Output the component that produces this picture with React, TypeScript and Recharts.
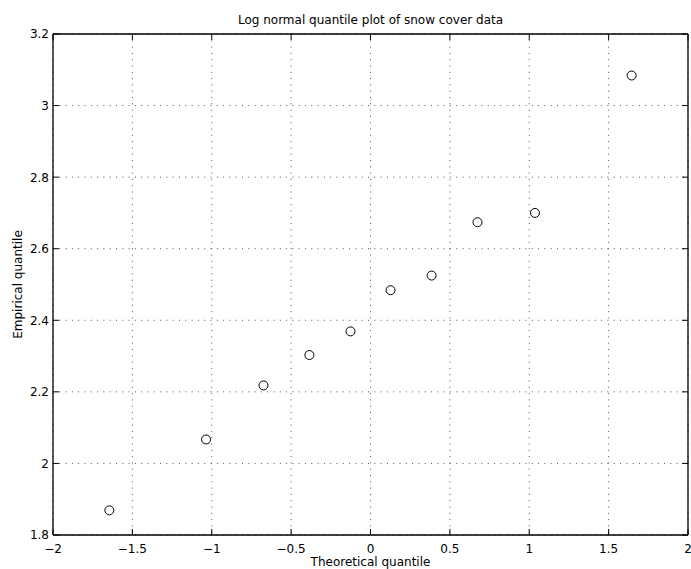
import React from 'react';
import { ScatterChart, Scatter, XAxis, YAxis, CartesianGrid, Label } from 'recharts';

const theoreticalQuantiles = [-1.645, -1.036, -0.674, -0.385, -0.126, 0.126, 0.385, 0.674, 1.036, 1.645];
const empiricalQuantiles = [1.869, 2.067, 2.218, 2.303, 2.369, 2.484, 2.525, 2.674, 2.7, 3.084];
const xTicks = [-2, -1.5, -1, -0.5, 0, 0.5, 1, 1.5, 2];
const yTicks = [1.8, 2, 2.2, 2.4, 2.6, 2.8, 3, 3.2];

const title = 'Log normal quantile plot of snow cover data';
const xLabel = 'Theoretical quantile';
const yLabel = 'Empirical quantile';

const data = theoreticalQuantiles.map((x, i) => ({ x, y: empiricalQuantiles[i] }));

const FONT = '"DejaVu Sans", sans-serif';
const fmt = (v: number) => {
  const s = String(v);
  return s.startsWith('-') ? '\u2212' + s.slice(1) : s;
};

const BottomTick = (props: any) => {
  const { x, y, payload } = props;
  return (
    <g>
      <line x1={x} y1={y} x2={x} y2={y - 6} stroke="#000" strokeWidth={1} />
      <text x={x} y={y + 18} textAnchor="middle" fontFamily={FONT} fontSize={12} fill="#000">
        {fmt(payload.value)}
      </text>
    </g>
  );
};

const LeftTick = (props: any) => {
  const { x, y, payload } = props;
  return (
    <g>
      <line x1={x} y1={y} x2={x + 6} y2={y} stroke="#000" strokeWidth={1} />
      <text x={x - 4} y={y + 4.4} textAnchor="end" fontFamily={FONT} fontSize={12} fill="#000">
        {fmt(payload.value)}
      </text>
    </g>
  );
};

const TopTick = (props: any) => {
  const { x, y } = props;
  return <line x1={x} y1={y} x2={x} y2={y + 6} stroke="#000" strokeWidth={1} />;
};

const RightTick = (props: any) => {
  const { x, y } = props;
  return <line x1={x} y1={y} x2={x - 6} y2={y} stroke="#000" strokeWidth={1} />;
};

const Ring = (props: any) => {
  const { cx, cy } = props;
  return <circle cx={cx} cy={cy} r={4.5} fill="none" stroke="#000" strokeWidth={1} />;
};

const YLabelContent = (props: any) => {
  const vb = props.viewBox || {};
  const cy = (vb.y ?? 34) + (vb.height ?? 501) / 2;
  const cx = 21.5;
  return (
    <text
      x={cx}
      y={cy}
      transform={`rotate(-90, ${cx}, ${cy})`}
      textAnchor="middle"
      fontFamily={FONT}
      fontSize={12}
      fill="#000"
    >
      {yLabel}
    </text>
  );
};

export default function App() {
  return (
    <div style={{ position: 'absolute', left: 0, top: 0, width: 691, height: 569, background: '#fff' }}>
      <ScatterChart width={691} height={569} margin={{ top: 33, right: 2, bottom: 0, left: 0 }}>
        <CartesianGrid stroke="#555" strokeDasharray="1 5.3" />
        <XAxis
          type="number"
          dataKey="x"
          domain={[-2, 2]}
          ticks={xTicks}
          interval={0}
          height={34}
          tickSize={0}
          tickMargin={0}
          tickLine={false}
          tick={<BottomTick />}
          axisLine={{ stroke: '#000', strokeWidth: 1.3 }}
          allowDataOverflow
        >
          <Label
            value={xLabel}
            position="insideBottom"
            offset={3}
            style={{ fontFamily: FONT, fontSize: 12, fill: '#000' }}
          />
        </XAxis>
        <XAxis
          xAxisId="top"
          orientation="top"
          type="number"
          dataKey="x"
          domain={[-2, 2]}
          ticks={xTicks}
          interval={0}
          height={1}
          tickSize={0}
          tickMargin={0}
          tickLine={false}
          tick={<TopTick />}
          axisLine={{ stroke: '#000', strokeWidth: 1.3 }}
          allowDataOverflow
        >
          <Label
            value={title}
            position="top"
            offset={9}
            style={{ fontFamily: FONT, fontSize: 12, fill: '#000' }}
          />
        </XAxis>
        <YAxis
          type="number"
          dataKey="y"
          domain={[1.8, 3.2]}
          ticks={yTicks}
          interval={0}
          width={53}
          tickSize={0}
          tickMargin={0}
          tickLine={false}
          tick={<LeftTick />}
          axisLine={{ stroke: '#000', strokeWidth: 1.3 }}
          allowDataOverflow
        >
          <Label content={<YLabelContent />} />
        </YAxis>
        <YAxis
          yAxisId="right"
          orientation="right"
          type="number"
          dataKey="y"
          domain={[1.8, 3.2]}
          ticks={yTicks}
          interval={0}
          width={1}
          tickSize={0}
          tickMargin={0}
          tickLine={false}
          tick={<RightTick />}
          axisLine={{ stroke: '#000', strokeWidth: 1.3 }}
          allowDataOverflow
        />
        <Scatter data={data} shape={<Ring />} isAnimationActive={false} />
      </ScatterChart>
    </div>
  );
}
